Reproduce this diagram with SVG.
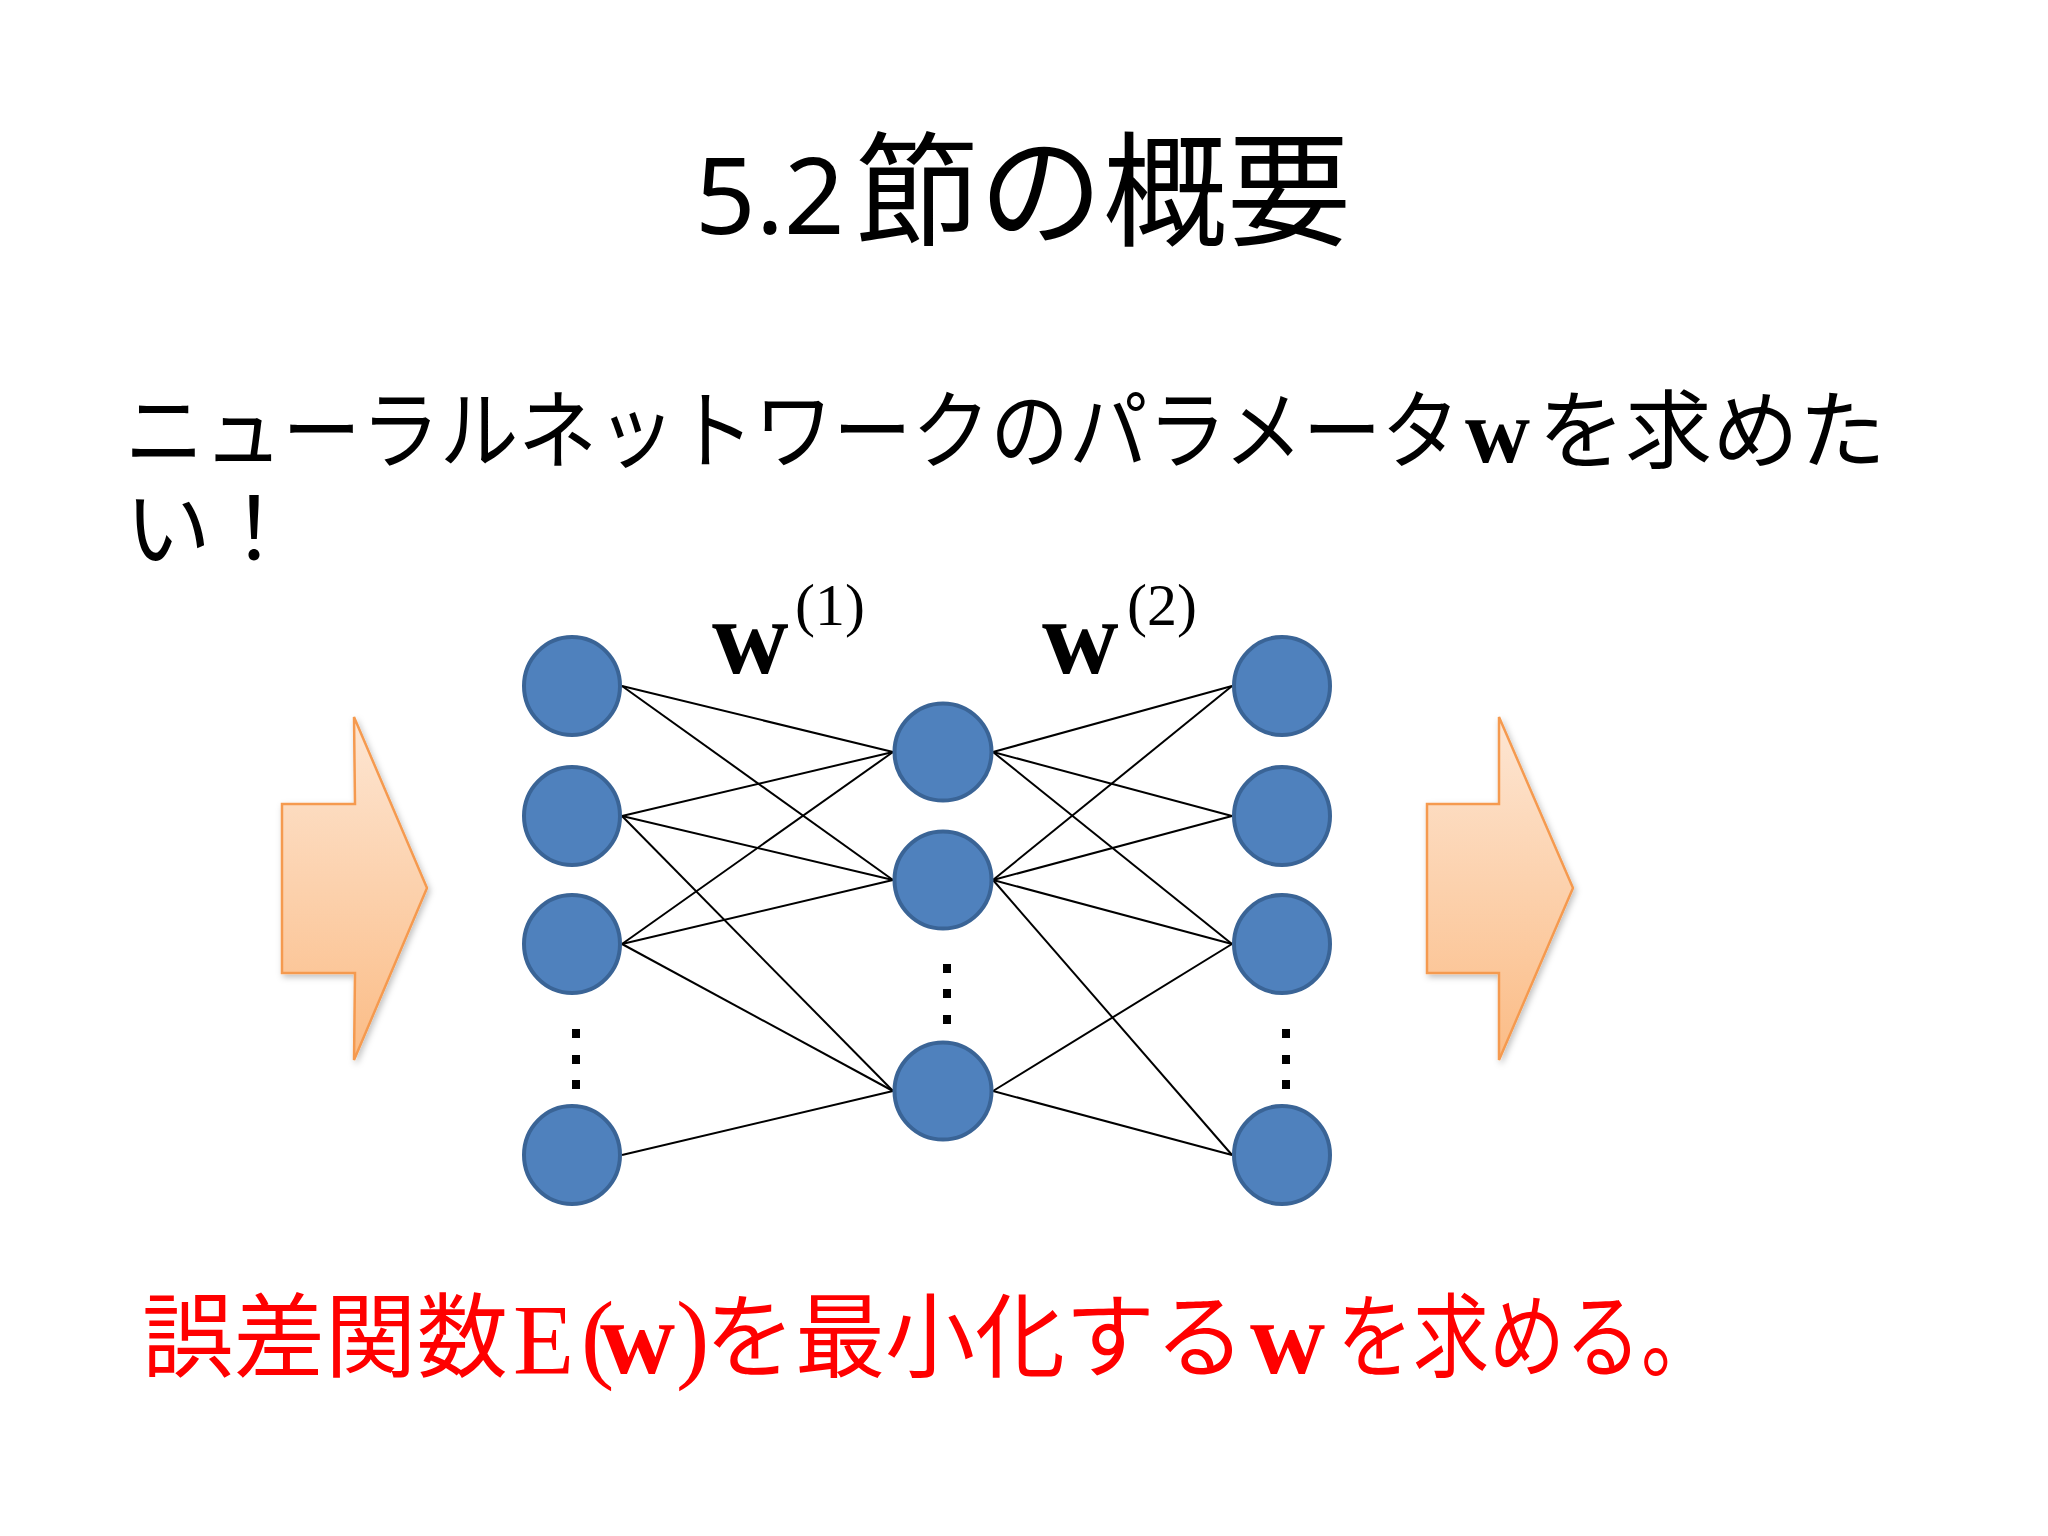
<svg xmlns="http://www.w3.org/2000/svg" width="2048" height="1536" viewBox="0 0 2048 1536">
<defs>
<linearGradient id="og" x1="0" y1="0" x2="0" y2="1">
<stop offset="0" stop-color="#fde6d3"/>
<stop offset="1" stop-color="#fbbc86"/>
</linearGradient>
<filter id="sh" x="-20%" y="-20%" width="140%" height="140%">
<feDropShadow dx="2" dy="3" stdDeviation="3" flood-color="#000" flood-opacity="0.25"/>
</filter>
<style>
.jp{font-family:"Noto Sans CJK JP","Noto Sans CJK SC",sans-serif;fill:#000}
.ser{font-family:"Liberation Serif","Times New Roman",serif}
.bw{font-family:"Liberation Serif","Times New Roman",serif;font-weight:bold}
.red{fill:#ff0000}
.node{fill:#4f81bd;stroke:#3a6496;stroke-width:4}
.edge{stroke:#000;stroke-width:2;fill:none}
.arrow{fill:url(#og);stroke:#f59a50;stroke-width:2.5;stroke-linejoin:miter;filter:url(#sh)}
.dot{fill:#000}
</style>
</defs>
<rect width="2048" height="1536" fill="#ffffff"/>

<g id="title">
<text x="695" y="234" font-family="'Noto Sans','DejaVu Sans',sans-serif" font-size="106">5.2</text>
<text class="jp" x="855" y="236" font-size="124">節の概要</text>
</g>

<g id="subtitle">
<text class="jp" x="125" y="462" font-size="86" textLength="1335" lengthAdjust="spacingAndGlyphs">ニューラルネットワークのパラメータ</text>
<text class="bw" x="1465" y="462" font-size="90">w</text>
<text class="jp" x="1538" y="462" font-size="86" textLength="348" lengthAdjust="spacingAndGlyphs">を求めた</text>
<text class="jp" x="125" y="560" font-size="86">い！</text>
</g>

<g id="labels">
<text class="bw" x="712" y="673" font-size="106">w</text>
<text class="ser" x="795" y="625" font-size="60">(1)</text>
<text class="bw" x="1042" y="673" font-size="106">w</text>
<text class="ser" x="1127" y="625" font-size="60">(2)</text>
</g>

<g id="connectors">
<line class="edge" x1="622" y1="686" x2="893" y2="752"/>
<line class="edge" x1="622" y1="686" x2="893" y2="880"/>
<line class="edge" x1="622" y1="816" x2="893" y2="752"/>
<line class="edge" x1="622" y1="816" x2="893" y2="880"/>
<line class="edge" x1="622" y1="816" x2="893" y2="1091"/>
<line class="edge" x1="622" y1="944" x2="893" y2="752"/>
<line class="edge" x1="622" y1="944" x2="893" y2="880"/>
<line class="edge" x1="622" y1="944" x2="893" y2="1091"/>
<line class="edge" x1="622" y1="1155" x2="893" y2="1091"/>
<line class="edge" x1="993" y1="752" x2="1232" y2="686"/>
<line class="edge" x1="993" y1="752" x2="1232" y2="816"/>
<line class="edge" x1="993" y1="752" x2="1232" y2="944"/>
<line class="edge" x1="993" y1="880" x2="1232" y2="686"/>
<line class="edge" x1="993" y1="880" x2="1232" y2="816"/>
<line class="edge" x1="993" y1="880" x2="1232" y2="944"/>
<line class="edge" x1="993" y1="880" x2="1232" y2="1155"/>
<line class="edge" x1="993" y1="1091" x2="1232" y2="944"/>
<line class="edge" x1="993" y1="1091" x2="1232" y2="1155"/>
</g>

<g id="input-layer">
<g id="L1"><ellipse class="node" cx="572" cy="686" rx="48" ry="49"/></g>
<g id="L2"><ellipse class="node" cx="572" cy="816" rx="48" ry="49"/></g>
<g id="L3"><ellipse class="node" cx="572" cy="944" rx="48" ry="49"/></g>
<g id="L4"><ellipse class="node" cx="572" cy="1155" rx="48" ry="49"/></g>
<g id="L-dots">
<rect class="dot" x="572" y="1029" width="8" height="9"/>
<rect class="dot" x="572" y="1055" width="8" height="9"/>
<rect class="dot" x="572" y="1080" width="8" height="9"/>
</g>
</g>

<g id="hidden-layer">
<g id="M1"><circle class="node" cx="943" cy="752" r="48.5"/></g>
<g id="M2"><circle class="node" cx="943" cy="880" r="48.5"/></g>
<g id="M3"><circle class="node" cx="943" cy="1091" r="48.5"/></g>
<g id="M-dots">
<rect class="dot" x="943" y="964" width="8" height="9"/>
<rect class="dot" x="943" y="989" width="8" height="9"/>
<rect class="dot" x="943" y="1015" width="8" height="9"/>
</g>
</g>

<g id="output-layer">
<g id="R1"><ellipse class="node" cx="1282" cy="686" rx="48" ry="49"/></g>
<g id="R2"><ellipse class="node" cx="1282" cy="816" rx="48" ry="49"/></g>
<g id="R3"><ellipse class="node" cx="1282" cy="944" rx="48" ry="49"/></g>
<g id="R4"><ellipse class="node" cx="1282" cy="1155" rx="48" ry="49"/></g>
<g id="R-dots">
<rect class="dot" x="1282" y="1029" width="8" height="9"/>
<rect class="dot" x="1282" y="1055" width="8" height="9"/>
<rect class="dot" x="1282" y="1080" width="8" height="9"/>
</g>
</g>

<g id="arrow-in">
<path class="arrow" d="M282,804 L355,804 L354,717 L427,888 L354,1060 L355,973 L282,973 Z"/>
</g>
<g id="arrow-out">
<path class="arrow" d="M1427,804 L1499,804 L1499,717 L1573,888 L1499,1060 L1499,973 L1427,973 Z"/>
</g>

<g id="conclusion">
<text class="jp red" x="142" y="1370" font-size="92" textLength="366" lengthAdjust="spacingAndGlyphs">誤差関数</text>
<text class="ser red" x="513" y="1373" font-size="100">E</text>
<text class="ser red" x="581" y="1370" font-size="100">(</text>
<text class="bw red" x="600" y="1373" font-size="104">w</text>
<text class="ser red" x="676" y="1370" font-size="100">)</text>
<text class="jp red" x="705" y="1370" font-size="92" textLength="540" lengthAdjust="spacingAndGlyphs">を最小化する</text>
<text class="bw red" x="1250" y="1373" font-size="104">w</text>
<text class="jp red" x="1337" y="1370" font-size="92" textLength="380" lengthAdjust="spacingAndGlyphs">を求める。</text>
</g>
</svg>
